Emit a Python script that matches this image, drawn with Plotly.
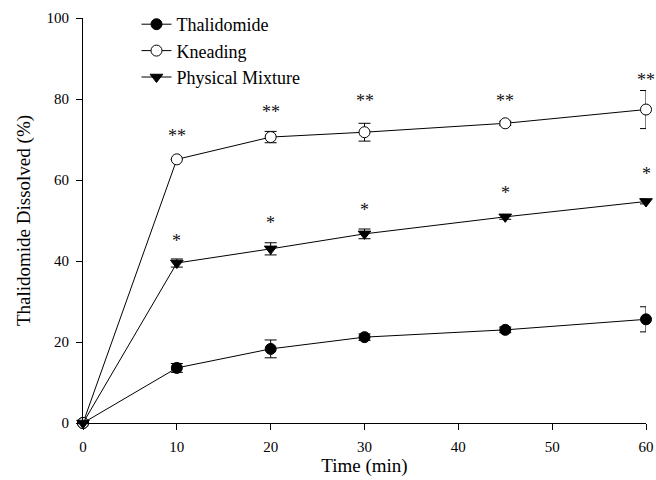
import plotly.graph_objects as go

time_min = [0, 10, 20, 30, 45, 60]

thal_mean = [0, 13.6, 18.3, 21.2, 23.0, 25.6]
thal_err = [0, 1.1, 2.2, 0.8, 0.7, 3.1]

knead_mean = [0, 65.1, 70.6, 71.8, 74.0, 77.4]
knead_err = [0, 0, 1.4, 2.2, 0.5, 4.7]

phys_mean = [0, 39.5, 43.0, 46.7, 50.9, 54.7]
phys_err = [0, 1.0, 1.5, 1.2, 0.6, 0.6]

# significance labels and the level (in % dissolved) at which each is printed
knead_sig = ["", "**", "**", "**", "**", "**"]
knead_sig_y = [None, 70.6, 76.5, 79.3, 79.3, 84.4]
phys_sig = ["", "*", "*", "*", "*", "*"]
phys_sig_y = [None, 44.7, 49.1, 52.3, 56.5, 61.2]

series_names = ["Thalidomide", "Kneading", "Physical Mixture"]

FONT = "Liberation Serif"

fig = go.Figure()

def add_series(name, y, err, symbol, fill):
    fig.add_trace(go.Scatter(
        x=time_min, y=y, name=name, mode="lines+markers",
        line=dict(color="black", width=1),
        marker=dict(symbol=symbol, size=11, color=fill,
                    line=dict(color="black", width=1)),
        error_y=dict(type="data", array=err, visible=True,
                     color="black", thickness=1, width=6),
        cliponaxis=False,
    ))

add_series(series_names[0], thal_mean, thal_err, "circle", "black")
add_series(series_names[1], knead_mean, knead_err, "circle", "white")
add_series(series_names[2], phys_mean, phys_err, "triangle-down", "black")

for labels, levels in [(knead_sig, knead_sig_y), (phys_sig, phys_sig_y)]:
    for x, lab, lev in zip(time_min, labels, levels):
        if lab:
            fig.add_annotation(x=x, y=lev, text=lab, showarrow=False,
                               xanchor="center", yanchor="middle", yshift=1,
                               font=dict(family=FONT, size=18, color="#111111"))

fig.update_layout(
    width=656, height=480,
    margin=dict(l=83, r=10, t=18, b=57, autoexpand=False),
    paper_bgcolor="white", plot_bgcolor="white",
    font=dict(family=FONT, size=15, color="black"),
    showlegend=True,
    legend=dict(x=0.095, y=0.9875, xanchor="left", yanchor="top",
                yref="container",
                font=dict(family=FONT, size=18, color="black"),
                bgcolor="rgba(0,0,0,0)", borderwidth=0,
                tracegroupgap=0, itemwidth=30),
)

fig.update_xaxes(
    range=[0, 60], tickvals=[0, 10, 20, 30, 40, 50, 60],
    showline=True, linecolor="black", linewidth=1, mirror=False,
    ticks="outside", ticklen=6, tickwidth=1, tickcolor="black",
    showgrid=False, zeroline=False, automargin=False,
    tickfont=dict(family=FONT, size=15), ticklabelstandoff=4,
    title=dict(text="Time (min)", font=dict(family=FONT, size=19), standoff=2),
)
fig.update_yaxes(
    range=[0, 100], tickvals=[0, 20, 40, 60, 80, 100],
    showline=True, linecolor="black", linewidth=1, mirror=False,
    ticks="outside", ticklen=6, tickwidth=1, tickcolor="black",
    showgrid=False, zeroline=False, automargin=False,
    tickfont=dict(family=FONT, size=15), ticklabelstandoff=4,
    title=dict(text="Thalidomide Dissolved (%)", font=dict(family=FONT, size=19), standoff=10),
)

fig.write_html("out.html")
